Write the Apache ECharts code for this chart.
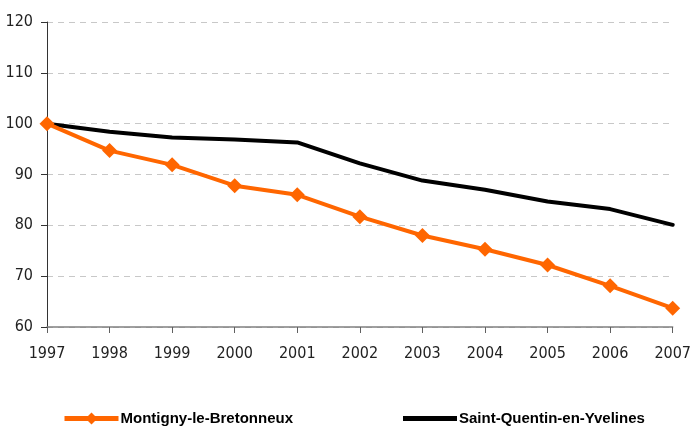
<!DOCTYPE html>
<html><head><meta charset="utf-8">
<script src="https://cdn.jsdelivr.net/npm/echarts@6/dist/echarts.min.js"></script>
<style>html,body{margin:0;padding:0;background:#fff}#c{width:694px;height:426px}</style>
</head><body><div id="c"></div>
<script>
var years = ['1997','1998','1999','2000','2001','2002','2003','2004','2005','2006','2007'];
var montigny = [100, 94.7, 91.9, 87.8, 86.0, 81.7, 78.0, 75.3, 72.2, 68.1, 63.7];
var sqy = [100, 98.4, 97.3, 96.9, 96.3, 92.2, 88.8, 87.0, 84.7, 83.2, 80.1];
var nameA = 'Montigny-le-Bretonneux';
var nameB = 'Saint-Quentin-en-Yvelines';
var font = '"DejaVu Sans Condensed", "Liberation Sans", sans-serif';
var legendText = {fontFamily: '"Liberation Sans", Arial, sans-serif', fontWeight: 'bold', fontSize: 15, color: '#000', padding: [5, 0, 0, -3]};
var chart = echarts.init(document.getElementById('c'));
chart.setOption({
  animation: false,
  grid: {left: 47, right: 17, top: 22, bottom: 99},
  legend: [
    {left: 62, top: 411, padding: 0, data: [{name: nameA, lineStyle: {width: 5}}], itemWidth: 54, itemHeight: 15, itemGap: 0,
     textStyle: legendText},
    {left: 403, top: 411, padding: 0, data: [{name: nameB, icon: 'path://M0,0 L54,0 L54,5 L0,5 Z'}],
     itemWidth: 54, itemHeight: 15, itemGap: 0, textStyle: legendText}
  ],
  xAxis: {
    type: 'category', data: years, boundaryGap: false,
    axisLine: {lineStyle: {color: '#808080', width: 1.5}},
    axisTick: {show: true, length: 6, lineStyle: {color: '#606060'}},
    axisLabel: {fontFamily: font, fontSize: 16, color: '#222', margin: 19}
  },
  yAxis: {
    type: 'value', min: 60, max: 120, interval: 10,
    axisLine: {show: true, lineStyle: {color: '#333', width: 1}},
    axisTick: {show: true, length: 6, lineStyle: {color: '#333'}},
    axisLabel: {fontFamily: font, fontSize: 16, color: '#222', margin: 14},
    splitLine: {lineStyle: {color: '#c8c8c8', type: [6, 5]}}
  },
  series: [
    {name: nameB, type: 'line', data: sqy, symbol: 'none', color: '#000',
     lineStyle: {width: 4, color: '#000', cap: 'round'}, z: 2},
    {name: nameA, type: 'line', data: montigny, symbol: 'diamond', symbolSize: 15,
     color: '#FF6600', itemStyle: {color: '#FF6600'}, lineStyle: {width: 4, color: '#FF6600'}, z: 3}
  ]
});
</script></body></html>
